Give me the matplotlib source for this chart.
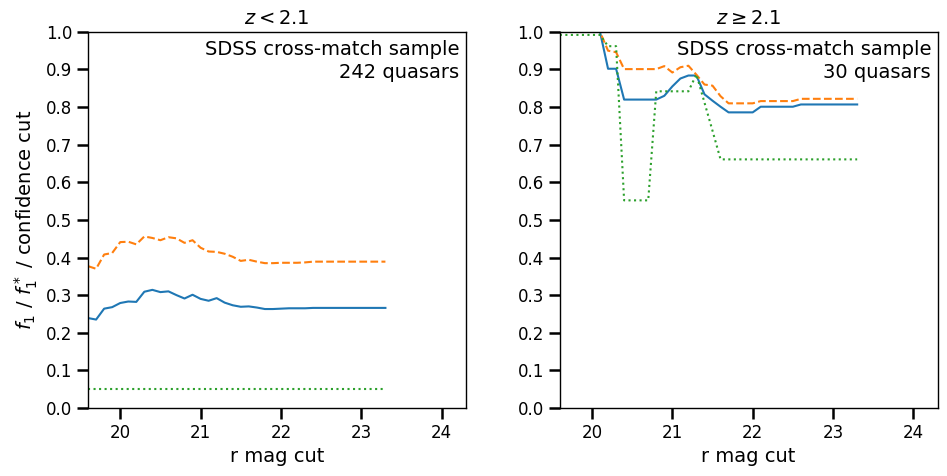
import numpy as np
import matplotlib
matplotlib.use('Agg')
import matplotlib.pyplot as plt

# r mag cut grid (19.6 ... 23.3)
mag_cut = np.round(np.arange(19.6, 23.35, 0.1), 1)

# z < 2.1 panel
low_f1 = [0.239, 0.235, 0.264, 0.268, 0.279, 0.283, 0.282, 0.309, 0.314, 0.308,
          0.310, 0.300, 0.291, 0.301, 0.290, 0.285, 0.292, 0.280, 0.273, 0.269,
          0.270, 0.267, 0.263, 0.263, 0.264, 0.265, 0.265, 0.265, 0.266,
          0.266, 0.266, 0.266, 0.266, 0.266, 0.266, 0.266, 0.266, 0.266]
low_f1_star = [0.377, 0.370, 0.408, 0.412, 0.441, 0.442, 0.435, 0.456, 0.452, 0.446,
               0.454, 0.451, 0.439, 0.446, 0.426, 0.416, 0.415, 0.410, 0.402, 0.391,
               0.394, 0.389, 0.385, 0.385, 0.386, 0.386, 0.386, 0.387, 0.389,
               0.389, 0.389, 0.389, 0.389, 0.389, 0.389, 0.389, 0.389, 0.389]
low_cut = [0.05] * 38

# z >= 2.1 panel
high_f1 = [1.0, 1.0, 1.0, 1.0, 1.0, 1.0, 0.902, 0.902, 0.820, 0.820,
           0.820, 0.820, 0.820, 0.830, 0.855, 0.876, 0.884, 0.884, 0.834, 0.817,
           0.801, 0.786, 0.786, 0.786, 0.786, 0.801, 0.801, 0.801, 0.801, 0.801,
           0.807, 0.807, 0.807, 0.807, 0.807, 0.807, 0.807, 0.807]
high_f1_star = [1.0, 1.0, 1.0, 1.0, 1.0, 1.0, 0.950, 0.946, 0.901, 0.901,
                0.901, 0.901, 0.901, 0.909, 0.892, 0.906, 0.910, 0.886, 0.860, 0.857,
                0.829, 0.810, 0.810, 0.810, 0.810, 0.816, 0.816, 0.816, 0.816, 0.816,
                0.822, 0.822, 0.822, 0.822, 0.822, 0.822, 0.822, 0.822]
high_cut = [0.992, 0.992, 0.992, 0.992, 0.992, 0.992, 0.962, 0.962, 0.552, 0.552,
            0.552, 0.552, 0.842, 0.842, 0.842, 0.842, 0.842, 0.887, 0.812, 0.737,
            0.661, 0.661, 0.661, 0.661, 0.661, 0.661, 0.661, 0.661, 0.661, 0.661,
            0.661, 0.661, 0.661, 0.661, 0.661, 0.661, 0.661, 0.661]

titles = [r'$z < 2.1$', r'$z \geq 2.1$']
n_quasars = [242, 30]

plt.rcParams['axes.linewidth'] = 1.0

fig, axes = plt.subplots(1, 2, figsize=(9.47, 4.76), dpi=100)
fig.subplots_adjust(left=0.093, right=0.990, bottom=0.143, top=0.933, wspace=0.249)

panels = [(low_f1, low_f1_star, low_cut), (high_f1, high_f1_star, high_cut)]
for ax, (f1, f1s, cut), title, nq in zip(axes, panels, titles, n_quasars):
    ax.plot(mag_cut, f1, color='tab:blue', lw=1.5, ls='-')
    ax.plot(mag_cut, f1s, color='tab:orange', lw=1.5, ls='--')
    ax.plot(mag_cut, cut, color='tab:green', lw=1.5, ls=':')
    ax.set_xlim(19.6, 24.3)
    ax.set_ylim(0, 1)
    ax.set_xticks([20, 21, 22, 23, 24])
    ax.set_yticks(np.arange(0, 1.01, 0.1))
    ax.tick_params(labelsize=12, length=8, width=1.8)
    ax.set_xlabel('r mag cut', fontsize=14)
    ax.set_title(title, fontsize=14, pad=6)
    ax.text(0.983, 0.978, 'SDSS cross-match sample\n%d quasars' % nq,
            transform=ax.transAxes, ha='right', va='top', fontsize=14,
            multialignment='right', linespacing=1.25)

axes[0].set_ylabel(r'$f_1$ / $f_1^*$ / confidence cut', fontsize=14)

fig.savefig('out.png', dpi=100)
